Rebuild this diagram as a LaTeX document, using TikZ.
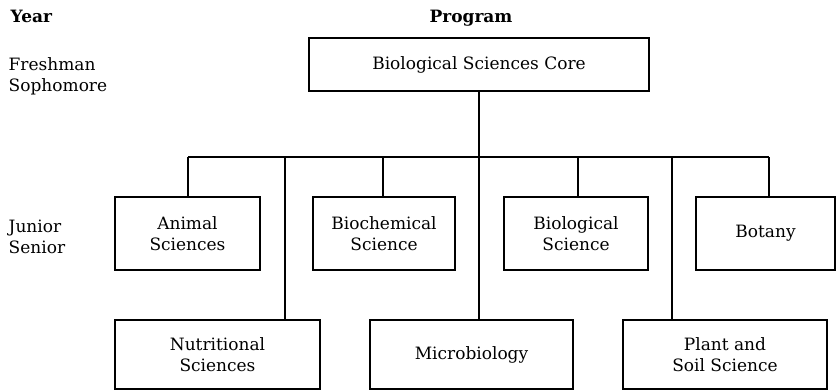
\documentclass[tikz,border=0pt]{standalone}
\usepackage{fontspec}
\setmainfont{DejaVu Serif}
\usepackage{tikz}

\begin{document}
\begin{tikzpicture}[x=1pt, y=-1pt, line width=1.4pt,
    prog/.style={draw, rectangle, align=center, inner sep=0pt,
        font=\fontsize{17}{21}\selectfont},
    yr/.style={align=left, inner sep=0pt, font=\fontsize{17}{21}\selectfont},
    head/.style={inner sep=0pt, font=\fontsize{17}{21}\selectfont\bfseries}]
\useasboundingbox (0,0) rectangle (837,391);

\node[head, anchor=base west] (year) at (10,22) {Year};
\node[head, anchor=base] (program) at (471,22) {Program};
\node[yr, anchor=west] (lower) at (8,76) {Freshman\\Sophomore};
\node[yr, anchor=west] (upper) at (8,237) {Junior\\Senior};

\node[prog, minimum width=340, minimum height=53] (core) at (479,64.5) {Biological Sciences Core};
\node[prog, minimum width=145, minimum height=73] (animal) at (187.5,233.5) {Animal\\Sciences};
\node[prog, minimum width=142, minimum height=73] (biochem) at (384,233.5) {Biochemical\\Science};
\node[prog, minimum width=144, minimum height=73] (biological) at (576,233.5) {Biological\\Science};
\node[prog, minimum width=139, minimum height=73] (botany) at (765.5,233.5) {Botany};
\node[prog, minimum width=205, minimum height=69] (nutritional) at (217.5,354.5) {Nutritional\\Sciences};
\node[prog, minimum width=203, minimum height=69] (micro) at (471.5,354.5) {Microbiology};
\node[prog, minimum width=204, minimum height=69] (plant) at (725,354.5) {Plant and\\Soil Science};

% bus under the core
\foreach \n/\x in {animal/188, nutritional/285, biochem/383, micro/479,
                   biological/578, plant/672, botany/769}
    \coordinate (tap-\n) at (\x,157);
\draw (core.south) -- (core.south |- micro.north);
\draw (tap-animal) -- (tap-botany);
\foreach \n in {animal, nutritional, biochem, biological, plant, botany}
    \draw (tap-\n) -- (tap-\n |- \n.north);
\end{tikzpicture}
\end{document}
